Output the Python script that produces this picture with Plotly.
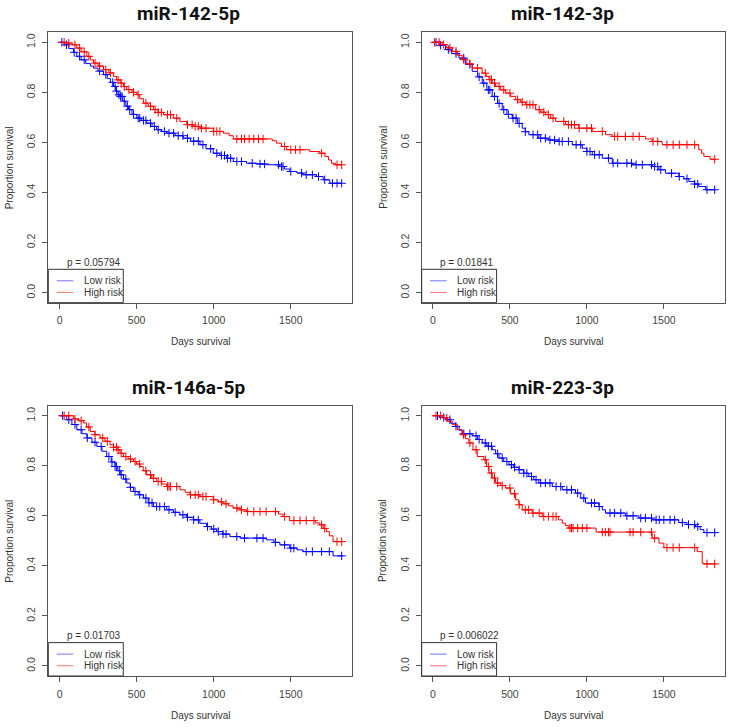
import plotly.graph_objects as go

# ---------------- data ----------------
titles = ["miR-142-5p", "miR-142-3p", "miR-146a-5p", "miR-223-3p"]
p_values = ["p = 0.05794", "p = 0.01841", "p = 0.01703", "p = 0.006022"]
group_names = ["Low risk", "High risk"]
x_ticks = [0, 500, 1000, 1500]
y_ticks = [0.0, 0.2, 0.4, 0.6, 0.8, 1.0]

# Kaplan-Meier step knots: (day, survival)
p1_low = [(0,1.0),(30,0.99),(60,0.975),(90,0.96),(112,0.944),(140,0.93),(170,0.915),(200,0.905),(220,0.897),
          (250,0.885),(285,0.871),(310,0.855),(330,0.84),(350,0.824),(365,0.805),(380,0.79),(393,0.784),(410,0.765),
          (430,0.745),(447,0.731),(470,0.712),(501,0.697),(530,0.688),(566,0.677),(600,0.664),(630,0.651),(660,0.644),
          (695,0.637),(750,0.627),(803,0.617),(850,0.605),(911,0.591),(950,0.575),(997,0.557),(1040,0.548),(1084,0.537),
          (1127,0.524),(1213,0.517),(1280,0.514),(1343,0.511),(1429,0.504),(1460,0.494),(1494,0.484),(1540,0.478),
          (1580,0.471),(1667,0.464),(1710,0.451),(1753,0.437),(1829,0.437)]
p1_high = [(0,1.0),(47,0.997),(80,0.99),(112,0.977),(140,0.962),(177,0.944),(200,0.93),(220,0.917),(250,0.905),
           (285,0.891),(320,0.878),(350,0.864),(370,0.85),(393,0.837),(415,0.823),(436,0.811),(470,0.8),(501,0.791),
           (520,0.775),(544,0.757),(575,0.745),(609,0.731),(640,0.72),(674,0.711),(738,0.697),(780,0.684),(825,0.671),
           (870,0.664),(911,0.657),(997,0.644),(1062,0.637),(1100,0.627),(1127,0.614),(1380,0.607),(1408,0.597),
           (1440,0.584),(1473,0.571),(1623,0.564),(1688,0.557),(1721,0.544),(1745,0.53),(1764,0.517),(1790,0.511),
           (1829,0.511)]
p2_low = [(0,1.0),(40,0.988),(82,0.971),(120,0.955),(169,0.937),(210,0.912),(255,0.884),(290,0.862),(320,0.837),
          (350,0.81),(385,0.784),(420,0.756),(450,0.731),(480,0.712),(515,0.697),(550,0.676),(580,0.657),(600,0.643),
          (623,0.631),(688,0.617),(750,0.61),(818,0.604),(905,0.591),(970,0.577),(1000,0.564),(1035,0.551),
          (1100,0.537),(1165,0.517),(1294,0.511),(1424,0.504),(1468,0.491),(1511,0.477),(1597,0.464),(1630,0.455),
          (1662,0.444),(1700,0.434),(1727,0.424),(1771,0.411),(1835,0.411)]
p2_high = [(0,1.0),(61,0.991),(90,0.978),(126,0.964),(160,0.948),(190,0.931),(220,0.914),(255,0.897),(320,0.877),
           (345,0.864),(364,0.851),(385,0.837),(407,0.824),(440,0.81),(472,0.797),(505,0.784),(537,0.771),(570,0.761),
           (602,0.751),(667,0.731),(700,0.721),(732,0.711),(765,0.697),(797,0.684),(861,0.671),(948,0.657),
           (1035,0.644),(1121,0.631),(1165,0.624),(1381,0.614),(1424,0.604),(1489,0.591),(1727,0.571),(1745,0.557),
           (1760,0.544),(1800,0.533),(1835,0.533)]
p3_low = [(0,1.0),(47,0.984),(80,0.965),(112,0.944),(145,0.928),(177,0.911),(210,0.894),(242,0.877),(275,0.858),
          (306,0.837),(335,0.815),(360,0.797),(378,0.78),(393,0.764),(415,0.747),(436,0.731),(458,0.714),(479,0.697),
          (510,0.684),(544,0.671),(575,0.652),(609,0.637),(695,0.624),(740,0.614),(781,0.604),(825,0.594),
          (868,0.584),(910,0.57),(954,0.557),(985,0.547),(1019,0.537),(1060,0.527),(1105,0.517),(1170,0.511),
          (1342,0.504),(1390,0.494),(1429,0.484),(1493,0.471),(1540,0.464),(1580,0.457),(1774,0.44),(1839,0.44)]
p3_high = [(0,1.0),(91,0.987),(125,0.98),(155,0.971),(175,0.955),(199,0.937),(230,0.924),(263,0.911),(295,0.898),
           (328,0.884),(350,0.874),(371,0.864),(392,0.85),(414,0.837),(445,0.827),(479,0.817),(500,0.807),
           (522,0.797),(543,0.78),(565,0.764),(598,0.75),(630,0.737),(662,0.727),(695,0.717),(781,0.704),
           (815,0.694),(846,0.684),(911,0.677),(997,0.664),(1030,0.656),(1062,0.648),(1095,0.64),(1126,0.631),
           (1170,0.624),(1213,0.617),(1420,0.607),(1450,0.597),(1493,0.581),(1660,0.572),(1688,0.564),(1710,0.55),
           (1731,0.537),(1750,0.52),(1774,0.497),(1839,0.497)]
p4_low = [(0,1.0),(40,0.993),(82,0.984),(115,0.97),(147,0.957),(170,0.942),(190,0.928),(255,0.92),(290,0.905),
          (320,0.891),(350,0.878),(385,0.864),(407,0.848),(429,0.831),(460,0.817),(494,0.804),(525,0.794),
          (558,0.784),(590,0.77),(623,0.757),(655,0.744),(688,0.731),(775,0.717),(840,0.704),(926,0.691),
          (960,0.671),(991,0.651),(1078,0.637),(1100,0.624),(1121,0.611),(1251,0.6),(1338,0.591),(1424,0.584),
          (1597,0.573),(1650,0.565),(1706,0.557),(1735,0.545),(1760,0.533),(1835,0.533)]
p4_high = [(0,1.0),(61,0.991),(95,0.978),(126,0.964),(160,0.944),(190,0.924),(212,0.908),(234,0.891),(260,0.864),
           (288,0.837),(331,0.824),(348,0.797),(364,0.771),(385,0.751),(407,0.731),(440,0.721),(472,0.711),
           (505,0.688),(537,0.664),(558,0.644),(580,0.624),(645,0.611),(710,0.597),(815,0.584),(840,0.571),
           (860,0.561),(883,0.551),(1060,0.535),(1424,0.511),(1468,0.491),(1500,0.473),(1716,0.457),(1749,0.411),
           (1760,0.408),(1835,0.408)]

# censoring times (days)
p1_low_cens = [15,45,95,130,160,260,300,345,360,370,385,395,405,420,440,455,480,510,520,545,560,590,615,640,680,710,
               740,770,800,830,870,900,930,980,1020,1050,1070,1090,1110,1150,1180,1250,1300,1330,1420,1440,1450,1500,
               1570,1600,1640,1680,1720,1770,1800,1830]
p1_high_cens = [30,60,100,130,160,190,230,260,300,330,380,400,420,450,480,510,560,590,620,640,660,700,720,760,830,
                860,880,900,920,950,1000,1020,1040,1150,1180,1200,1230,1260,1290,1320,1460,1500,1530,1560,1700,1800,1830]
p2_low_cens = [20,50,100,150,200,240,300,330,360,370,400,430,460,490,520,540,560,600,650,680,700,730,760,790,820,840,
               880,930,960,1000,1020,1050,1080,1140,1170,1200,1260,1290,1320,1360,1420,1440,1460,1480,1550,1600,1650,
               1700,1720,1780,1830]
p2_high_cens = [10,40,70,110,150,200,240,290,340,370,380,400,430,460,500,550,580,610,630,650,690,720,750,780,850,880,
                900,920,950,1000,1030,1100,1180,1200,1250,1300,1340,1430,1460,1520,1560,1600,1650,1700,1830]
p3_low_cens = [20,60,100,140,180,230,270,320,340,360,370,390,400,430,460,490,520,560,580,600,630,650,680,710,750,800,
               830,870,900,960,1000,1030,1060,1080,1150,1200,1280,1320,1400,1460,1500,1520,1600,1640,1700,1750,1830]
p3_high_cens = [30,60,100,140,190,230,280,310,350,370,380,400,430,460,490,520,560,590,610,640,660,700,710,720,760,850,
                880,900,930,950,1000,1050,1080,1150,1180,1220,1260,1300,1340,1400,1460,1520,1560,1600,1650,1700,1720,
                1800,1830]
p4_low_cens = [30,70,110,150,200,240,280,300,340,360,380,420,450,480,510,530,560,590,610,640,670,700,730,760,800,830,
               870,900,940,980,1030,1050,1080,1150,1180,1220,1260,1300,1350,1380,1420,1450,1470,1500,1540,1570,1620,
               1660,1700,1720,1780,1830]
p4_high_cens = [20,50,90,200,240,280,340,360,380,400,420,450,500,530,560,600,620,650,690,720,750,780,800,890,900,910,
                940,970,1000,1100,1120,1140,1150,1280,1300,1350,1420,1440,1520,1560,1600,1700,1780,1830]

panels = [
    (p1_low, p1_high, p1_low_cens, p1_high_cens),
    (p2_low, p2_high, p2_low_cens, p2_high_cens),
    (p3_low, p3_high, p3_low_cens, p3_high_cens),
    (p4_low, p4_high, p4_low_cens, p4_high_cens),
]

# ---------------- styling ----------------
W, H = 732, 727
BLUE, RED = "#0000FF", "#FF0000"
AX = "#555555"
TXT = "#333333"
FONT = "Liberation Sans, Arial, sans-serif"

# plot boxes in pixels: (left, right, top, bottom)
boxes = [(48.3, 352.3, 32.3, 302.7), (421.7, 725.3, 32.3, 302.7),
         (48.3, 352.3, 405.7, 676.0), (421.7, 725.3, 405.7, 676.0)]
title_pos = [(188.5, 14), (562.7, 14), (188.5, 387), (562.7, 387)]


def step_value(knots, t):
    v = knots[0][1]
    for kt, ks in knots:
        if kt <= t:
            v = ks
        else:
            break
    return v


fig = go.Figure()
layout = dict(width=W, height=H, margin=dict(l=0, r=0, t=0, b=0),
              paper_bgcolor="white", plot_bgcolor="white", showlegend=False,
              font=dict(family=FONT, color=TXT, size=10))
annotations, shapes = [], []

for i, (low, high, low_c, high_c) in enumerate(panels):
    n = "" if i == 0 else str(i + 1)
    xa, ya = "x" + n, "y" + n
    L, R, T, B = boxes[i]
    for knots, cens, col in ((low, low_c, BLUE), (high, high_c, RED)):
        fig.add_trace(go.Scatter(x=[k[0] for k in knots], y=[k[1] for k in knots], mode="lines",
                                 line=dict(color=col, width=1, shape="hv"), xaxis=xa, yaxis=ya,
                                 hoverinfo="skip"))
        fig.add_trace(go.Scatter(x=cens, y=[step_value(knots, t) for t in cens], mode="markers",
                                 marker=dict(symbol="cross-thin", size=6, line=dict(color=col, width=1)),
                                 xaxis=xa, yaxis=ya, hoverinfo="skip"))
    common = dict(showgrid=False, zeroline=False, showline=True, linecolor=AX, linewidth=1, mirror=True,
                  ticks="outside", ticklen=5, tickwidth=1, tickcolor=AX,
                  tickfont=dict(family=FONT, size=10.5, color="#444444"))
    layout["xaxis" + n] = dict(common, domain=[L / W, R / W], range=[-73, 1899], tickvals=x_ticks,
                               anchor=ya, ticklabelstandoff=3)
    layout["yaxis" + n] = dict(common, domain=[1 - B / H, 1 - T / H], range=[-0.04, 1.04], tickvals=y_ticks,
                               tickformat=".1f", tickangle=-90, anchor=xa, ticklabelstandoff=3)
    # title
    annotations.append(dict(text="<b>" + titles[i] + "</b>", x=title_pos[i][0] / W, y=1 - title_pos[i][1] / H,
                            xref="paper", yref="paper", showarrow=False, xanchor="center", yanchor="middle",
                            font=dict(family="Roboto, Arial, sans-serif", size=19, color="#111111")))
    # axis titles
    annotations.append(dict(text="Days survival", x=(L + R) / 2 / W, y=1 - (B + 39) / H, xref="paper",
                            yref="paper", showarrow=False, xanchor="center", yanchor="middle",
                            font=dict(family=FONT, size=10, color=TXT)))
    annotations.append(dict(text="Proportion survival", x=(L - 38.5) / W, y=1 - (T + B) / 2 / H, xref="paper",
                            yref="paper", showarrow=False, xanchor="center", yanchor="middle", textangle=-90,
                            font=dict(family=FONT, size=10, color=TXT)))
    # legend box
    xd, yd = xa + " domain", ya + " domain"
    shapes.append(dict(type="rect", xref=xd, yref=yd, x0=0, x1=0.2467, y0=0, y1=0.1235,
                       line=dict(color="#333333", width=1), fillcolor="rgba(0,0,0,0)"))
    for yy, col, name in ((0.081, "rgba(0,0,255,0.55)", group_names[0]), (0.038, "rgba(255,0,0,0.55)", group_names[1])):
        shapes.append(dict(type="line", xref=xd, yref=yd, x0=0.0276, x1=0.0822, y0=yy, y1=yy,
                           line=dict(color=col, width=1)))
        annotations.append(dict(text=name, x=0.1099, y=yy, xref=xd, yref=yd, showarrow=False,
                                xanchor="left", yanchor="middle", font=dict(family=FONT, size=10, color=TXT)))
    annotations.append(dict(text=p_values[i], x=0.055, y=0.149, xref=xd, yref=yd, showarrow=False,
                            xanchor="left", yanchor="middle", font=dict(family=FONT, size=10, color=TXT)))

layout["annotations"] = annotations
layout["shapes"] = shapes
fig.update_layout(**layout)
fig.write_html("out.html", config={"displayModeBar": False},
               post_script="document.body.style.margin='0';document.body.style.overflow='hidden';")
